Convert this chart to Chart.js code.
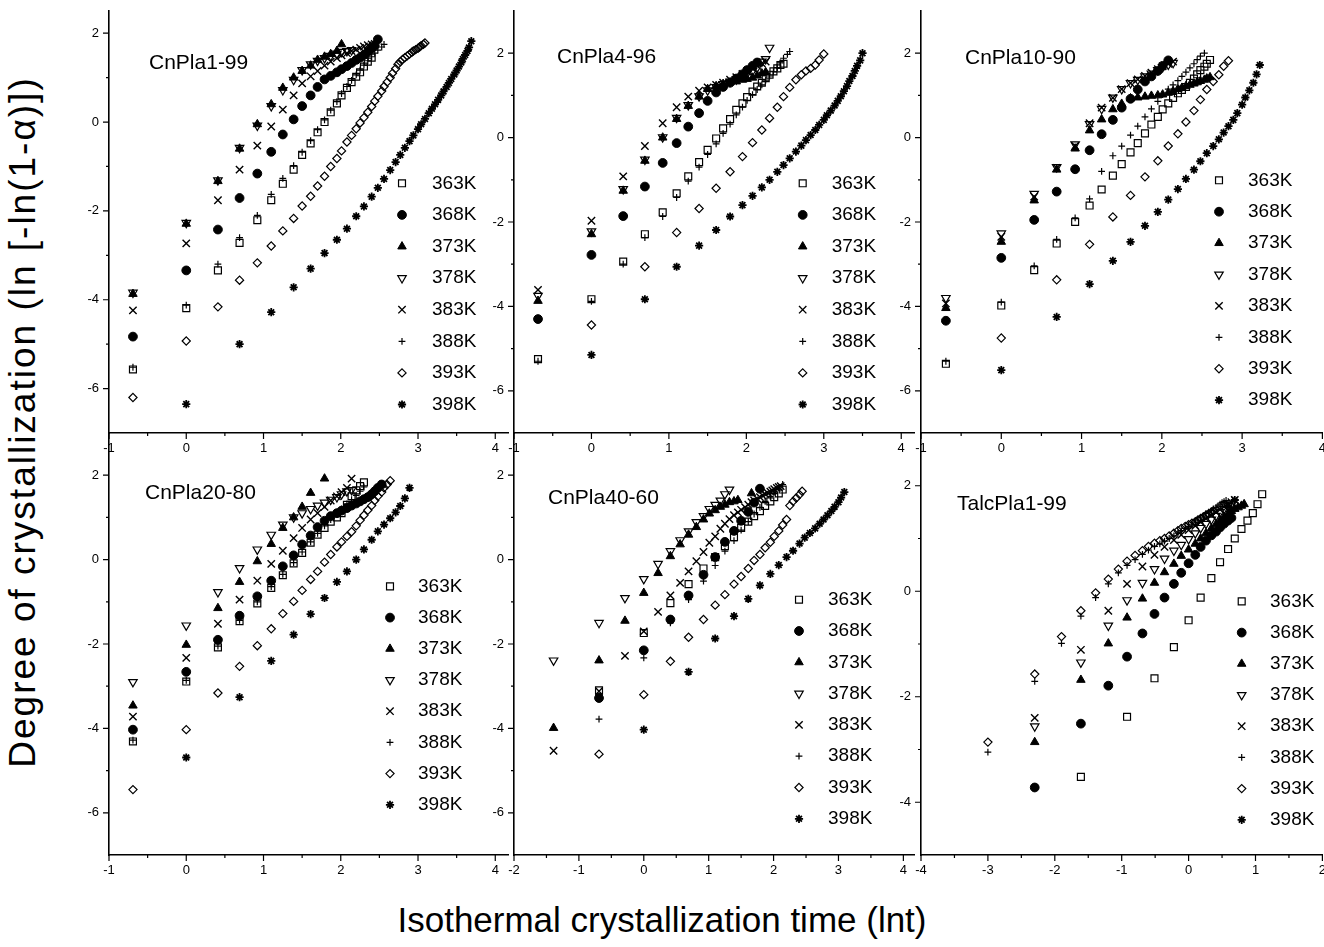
<!DOCTYPE html>
<html lang="en">
<head>
<meta charset="UTF-8">
<title>Isothermal crystallization - Avrami plots</title>
<script src="https://cdn.jsdelivr.net/npm/chart.js@4"></script>
<style>
  body { margin: 0; background: #fff; width: 1324px; height: 947px; overflow: hidden; position: relative;
         font-family: 'Liberation Sans', Arial, sans-serif; color: #000; }
  canvas { position: absolute; }
  #ytitle { position: absolute; left: -357px; top: 400px; width: 760px; height: 44px; line-height: 44px;
            text-align: center; font-size: 37px; letter-spacing: 2px; transform: rotate(-90deg); white-space: nowrap; }
  #xtitle { position: absolute; left: 0; top: 900px; width: 1324px; height: 40px; line-height: 40px;
            text-align: center; font-size: 35px; white-space: nowrap; }
</style>
</head>
<body>
<div id="ytitle">Degree of crystallization (ln [-ln(1-α)])</div>
<div id="xtitle">Isothermal crystallization time (lnt)</div>
<script>
// ln t sampling grids
const gHalf = [-0.69, 0, 0.41, 0.69, 0.92, 1.10, 1.25, 1.39, 1.50, 1.61, 1.70, 1.79, 1.87, 1.95, 2.01, 2.08, 2.14, 2.20, 2.25, 2.30, 2.35, 2.40, 2.44, 2.48, 2.53, 2.56, 2.60, 2.64, 2.67, 2.71, 2.74, 2.77, 2.80, 2.83, 2.86, 2.89, 2.92, 2.94, 2.97, 3.00, 3.02, 3.04, 3.07, 3.09];
const gOne = [0, 0.69, 1.10, 1.39, 1.61, 1.79, 1.95, 2.08, 2.20, 2.30, 2.40, 2.48, 2.56, 2.64, 2.71, 2.77, 2.83, 2.89, 2.94, 3.00, 3.04, 3.09, 3.14, 3.18, 3.22, 3.26, 3.30, 3.33, 3.37, 3.40, 3.43, 3.47, 3.50, 3.53, 3.56, 3.58, 3.61, 3.64, 3.66, 3.69];
const gQuarter = [-1.39, -0.69, -0.29, 0, 0.22, 0.41, 0.56, 0.69, 0.81, 0.92, 1.01, 1.10, 1.18, 1.25, 1.32, 1.39, 1.45, 1.50, 1.56, 1.61, 1.66, 1.70, 1.75, 1.79, 1.83, 1.87, 1.91, 1.95, 1.98, 2.01, 2.05, 2.08, 2.11, 2.14];
const gTenth = [-2.30, -1.61, -1.20, -0.92, -0.69, -0.51, -0.36, -0.22, -0.11, 0, 0.10, 0.18, 0.26, 0.34, 0.41, 0.47, 0.53, 0.59, 0.64, 0.69, 0.74, 0.79, 0.83];
const gTwentieth = [-3.00, -2.30, -1.90, -1.61, -1.39, -1.20, -1.05, -0.92, -0.80, -0.69, -0.60, -0.51, -0.43, -0.36, -0.29, -0.22, -0.16, -0.11, -0.05, 0, 0.05, 0.10, 0.14, 0.18, 0.22, 0.26, 0.30, 0.34, 0.37, 0.41, 0.44, 0.47, 0.50, 0.53, 0.56, 0.59];
const gFifth = [-1.61, -0.92, -0.51, -0.22, 0, 0.18, 0.34, 0.47, 0.59, 0.69, 0.79, 0.88, 0.96, 1.03, 1.10];

const temps = ['363K', '368K', '373K', '378K', '383K', '388K', '393K', '398K'];

// tick labels
const xTicksA = [-1, 0, 1, 2, 3, 4];
const xTicksB = [-2, -1, 0, 1, 2, 3, 4];
const xTicksC = [-4, -3, -2, -1, 0, 1, 2];
const yTicksA = [-6, -4, -2, 0, 2];
const yTicksB = [-4, -2, 0, 2];

// CnPla1-99
const p1_363 = [-5.57, -4.19, -3.34, -2.72, -2.21, -1.76, -1.39, -1.07, -0.74, -0.48, -0.23, 0.0, 0.22, 0.42, 0.6, 0.77, 0.9, 1.02, 1.12, 1.25, 1.36, 1.45];
const p1_368 = [-4.83, -3.34, -2.42, -1.71, -1.16, -0.67, -0.28, 0.06, 0.36, 0.6, 0.79, 0.96, 1.04, 1.12, 1.19, 1.26, 1.33, 1.4, 1.45, 1.51, 1.58, 1.66, 1.72, 1.86];
const p1_373 = [-3.87, -2.29, -1.33, -0.6, -0.05, 0.4, 0.77, 1.0, 1.15, 1.27, 1.4, 1.47, 1.53, 1.6, 1.75];
const p1_378 = [-3.84, -2.27, -1.31, -0.58, -0.08, 0.36, 0.72, 0.95, 1.17, 1.3, 1.38, 1.44, 1.49, 1.54, 1.58, 1.6, 1.62];
const p1_383 = [-4.24, -2.73, -1.76, -1.07, -0.53, -0.1, 0.28, 0.6, 0.87, 1.03, 1.15, 1.27, 1.36, 1.44, 1.5, 1.55, 1.6, 1.63, 1.67, 1.7, 1.73, 1.75, 1.76];
const p1_388 = [-5.52, -4.12, -3.2, -2.6, -2.1, -1.63, -1.27, -0.98, -0.68, -0.42, -0.17, 0.05, 0.27, 0.46, 0.64, 0.8, 0.94, 1.06, 1.17, 1.28, 1.38, 1.47, 1.55, 1.62, 1.69, 1.75];
const p1_393 = [-6.2, -4.93, -4.16, -3.56, -3.17, -2.79, -2.45, -2.17, -1.89, -1.67, -1.44, -1.22, -1.0, -0.82, -0.65, -0.45, -0.3, -0.15, -0.02, 0.1, 0.22, 0.35, 0.47, 0.58, 0.7, 0.8, 0.9, 1.0, 1.1, 1.2, 1.3, 1.36, 1.41, 1.45, 1.49, 1.53, 1.57, 1.6, 1.63, 1.66, 1.69, 1.72, 1.75, 1.78];
const p1_398 = [-6.35, -5.0, -4.28, -3.72, -3.3, -2.95, -2.65, -2.4, -2.12, -1.9, -1.68, -1.48, -1.28, -1.08, -0.9, -0.74, -0.58, -0.43, -0.3, -0.16, -0.05, 0.07, 0.2, 0.3, 0.4, 0.5, 0.6, 0.69, 0.79, 0.88, 0.97, 1.07, 1.16, 1.25, 1.34, 1.42, 1.51, 1.6, 1.68, 1.82];

// CnPla4-96
const p2_363 = [-5.25, -3.83, -2.94, -2.29, -1.77, -1.32, -0.92, -0.58, -0.29, -0.02, 0.22, 0.44, 0.66, 0.81, 0.96, 1.09, 1.21, 1.30, 1.41, 1.49, 1.57, 1.64, 1.72, 1.75];
const p2_368 = [-4.3, -2.78, -1.86, -1.16, -0.6, -0.13, 0.26, 0.58, 0.87, 1.07, 1.2, 1.3, 1.4, 1.5, 1.6, 1.7, 1.78];
const p2_373 = [-3.87, -2.29, -1.26, -0.55, 0.0, 0.44, 0.75, 0.97, 1.15, 1.22, 1.27, 1.31, 1.33, 1.37, 1.39, 1.42, 1.47, 1.52, 1.55];
const p2_378 = [-3.75, -2.22, -1.22, -0.52, 0.01, 0.47, 0.77, 0.98, 1.12, 1.2, 1.27, 1.33, 1.38, 1.45, 1.52, 1.58, 1.66, 1.8, 1.86, 2.13];
const p2_383 = [-3.61, -1.97, -0.92, -0.2, 0.34, 0.72, 0.97, 1.11, 1.19, 1.25, 1.3, 1.37, 1.43, 1.51, 1.57, 1.64, 1.7, 1.76, 1.8];
const p2_388 = [-5.3, -3.88, -3.0, -2.37, -1.87, -1.42, -1.03, -0.7, -0.4, -0.15, 0.1, 0.32, 0.54, 0.72, 0.88, 1.02, 1.14, 1.25, 1.36, 1.46, 1.56, 1.66, 1.77, 1.88, 1.97, 2.04];
const p2_393 = [-4.44, -3.06, -2.25, -1.68, -1.2, -0.81, -0.45, -0.12, 0.18, 0.46, 0.72, 0.97, 1.19, 1.37, 1.49, 1.58, 1.64, 1.72, 1.84, 1.98];
const p2_398 = [-5.15, -3.83, -3.06, -2.56, -2.19, -1.87, -1.6, -1.38, -1.18, -1.0, -0.81, -0.65, -0.49, -0.33, -0.19, -0.06, 0.06, 0.18, 0.3, 0.42, 0.53, 0.64, 0.76, 0.87, 0.98, 1.1, 1.22, 1.34, 1.46, 1.58, 1.7, 1.83, 2.0];

// CnPla10-90
const p3_363 = [-5.36, -3.98, -3.14, -2.51, -2.0, -1.61, -1.23, -0.9, -0.63, -0.35, -0.13, 0.1, 0.31, 0.49, 0.67, 0.81, 0.94, 1.05, 1.13, 1.2, 1.3, 1.4, 1.5, 1.6, 1.68, 1.75, 1.84];
const p3_368 = [-4.34, -2.85, -1.95, -1.28, -0.75, -0.3, 0.08, 0.42, 0.71, 0.92, 1.14, 1.33, 1.45, 1.58, 1.7, 1.83];
const p3_373 = [-4.04, -2.47, -1.49, -0.76, -0.26, 0.17, 0.43, 0.67, 0.8, 0.93, 0.95, 0.97, 0.99, 1.0, 1.02, 1.06, 1.1, 1.15, 1.18, 1.22, 1.25, 1.28, 1.31, 1.34, 1.37, 1.4, 1.43];
const p3_378 = [-3.8, -2.27, -1.33, -0.7, -0.16, 0.32, 0.68, 0.95, 1.15, 1.29, 1.37, 1.45, 1.52, 1.6, 1.67, 1.73, 1.77];
const p3_383 = [-3.93, -2.35, -1.4, -0.72, -0.2, 0.34, 0.71, 0.94, 1.15, 1.29, 1.38, 1.46, 1.54, 1.62, 1.69, 1.75, 1.8];
const p3_388 = [-5.3, -3.9, -3.04, -2.41, -1.9, -1.45, -0.8, -0.43, -0.2, 0.06, 0.27, 0.49, 0.68, 0.86, 1.02, 1.15, 1.25, 1.35, 1.45, 1.55, 1.65, 1.75, 1.85, 1.93, 2.0];
const p3_393 = [-4.75, -3.37, -2.53, -1.88, -1.37, -0.93, -0.55, -0.2, 0.09, 0.37, 0.64, 0.9, 1.14, 1.33, 1.49, 1.69, 1.82];
const p3_398 = [-5.51, -4.25, -3.47, -2.92, -2.47, -2.09, -1.76, -1.47, -1.22, -0.98, -0.76, -0.56, -0.37, -0.2, -0.04, 0.12, 0.27, 0.42, 0.58, 0.78, 0.95, 1.12, 1.3, 1.5, 1.72];

// CnPla20-80
const p4_363 = [-4.31, -2.89, -2.08, -1.46, -1.04, -0.67, -0.37, -0.09, 0.16, 0.4, 0.59, 0.75, 0.9, 1.0, 1.1, 1.3, 1.5, 1.64, 1.74, 1.83];
const p4_368 = [-4.03, -2.66, -1.9, -1.33, -0.87, -0.5, -0.16, 0.1, 0.36, 0.57, 0.77, 0.92, 1.03, 1.1, 1.16, 1.22, 1.28, 1.33, 1.38, 1.43, 1.48, 1.55, 1.62, 1.7, 1.78];
const p4_373 = [-3.46, -2.02, -1.15, -0.53, -0.04, 0.37, 0.75, 1.0, 1.25, 1.58, null, 1.92];
const p4_378 = [-2.9, -1.56, -0.77, -0.2, 0.24, 0.59, 0.83, 1.0, 1.1, 1.2, 1.28, 1.35, 1.42, 1.48, 1.55, 1.62, 1.65];
const p4_383 = [-3.72, -2.33, -1.52, -0.95, -0.5, -0.1, 0.21, 0.51, 0.75, 0.95, 1.1, 1.25, 1.4, 1.5, 1.6, 1.7, 1.92];
const p4_388 = [-4.28, -2.86, -2.05, -1.44, -1.0, -0.64, -0.35, -0.07, 0.18, 0.42, 0.62, 0.8, 0.95, 1.08, 1.2, 1.32, 1.42, 1.52, 1.62, 1.72];
const p4_393 = [-5.45, -4.03, -3.16, -2.53, -2.04, -1.64, -1.28, -0.99, -0.73, -0.47, -0.28, -0.06, 0.12, 0.3, 0.42, 0.55, 0.66, 0.8, 0.93, 1.05, 1.17, 1.28, 1.4, 1.5, 1.6, 1.7, 1.78, 1.87];
const p4_398 = [-4.69, -3.26, -2.4, -1.78, -1.29, -0.91, -0.53, -0.28, 0.0, 0.24, 0.47, 0.67, 0.83, 0.98, 1.12, 1.27, 1.45, 1.7];

// CnPla40-60
const p5_363 = [-3.1, -1.74, -1.03, -0.58, -0.21, 0.06, 0.32, 0.53, 0.75, 0.9, 1.03, 1.15, 1.27, 1.38, 1.48, 1.57, 1.66];
const p5_368 = [-3.28, -2.15, -1.42, -0.85, -0.36, 0.06, 0.42, 0.68, 0.92, 1.13, 1.35, 1.68];
const p5_373 = [-3.99, -2.39, -1.45, -0.79, -0.32, 0.08, 0.36, 0.59, 0.77, 0.95, 1.09, 1.17, 1.25, 1.3, 1.36, 1.38, 1.41, null, null, null, 1.57];
const p5_378 = [-2.39, -1.5, -0.91, -0.46, -0.1, 0.2, 0.46, 0.67, 0.89, 1.03, 1.2, 1.3, 1.4, 1.55, 1.66];
const p5_383 = [-4.53, -3.12, -2.28, -1.7, -1.24, -0.85, -0.55, -0.28, -0.04, 0.18, 0.4, 0.55, 0.73, 0.85, 0.96, 1.05, 1.12, 1.18, 1.24, 1.3, 1.36, 1.4, 1.44, 1.48, 1.52, 1.55, 1.58, 1.61, 1.64, 1.67, 1.7, 1.72, 1.74];
const p5_388 = [-3.78, -2.33, -1.5, -0.95, -0.51, -0.14, 0.2, 0.45, 0.7, 0.9, 1.08, 1.24, 1.38, 1.5, 1.6, 1.7, 1.78];
const p5_393 = [-4.61, -3.2, -2.41, -1.84, -1.42, -1.08, -0.83, -0.58, -0.4, -0.21, -0.02, 0.12, 0.28, 0.41, 0.55, 0.68, 0.82, 0.95, 1.28, 1.38, 1.46, 1.54, 1.62];
const p5_398 = [-4.03, -2.66, -1.87, -1.34, -0.93, -0.61, -0.34, -0.13, 0.06, 0.21, 0.38, 0.52, 0.63, 0.74, 0.85, 0.95, 1.05, 1.15, 1.25, 1.36, 1.47, 1.6];

// TalcPla1-99
const p6_363 = [-3.52, -2.38, -1.65, -1.06, -0.55, -0.12, 0.25, 0.55, 0.8, 1.0, 1.18, 1.34, 1.48, 1.65, 1.84];
const p6_368 = [-3.72, -2.51, -1.79, -1.24, -0.8, -0.43, -0.12, 0.14, 0.35, 0.53, 0.69, 0.84, 0.96, 1.06, 1.13, 1.21, 1.28, 1.34, 1.39];
const p6_373 = [-2.86, -1.68, -0.99, -0.5, -0.14, 0.16, 0.36, 0.52, 0.67, 0.79, 0.9, 1.0, 1.1, 1.19, 1.27, 1.34, 1.41, 1.47, 1.52, 1.56, 1.59, 1.62, 1.65];
const p6_378 = [-2.56, -1.35, -0.65, -0.17, 0.16, 0.42, 0.62, 0.77, 0.88, 0.99, 1.1, 1.2, 1.28, 1.36, 1.43, 1.5, 1.56, 1.61, 1.65];
const p6_383 = [-2.4, -1.11, -0.37, 0.14, 0.47, 0.69, 0.84, 0.97, 1.07, 1.16, 1.24, 1.31, 1.38, 1.44, 1.5, 1.55, 1.6, 1.65, 1.69, 1.73];
const p6_388 = [-3.05, -1.71, -0.99, -0.47, -0.12, 0.14, 0.35, 0.49, 0.6, 0.7, 0.78, 0.85, 0.9, 0.95, 1.0, 1.05, 1.1, 1.15, 1.19, 1.23, 1.27, 1.31, 1.35, 1.39, 1.43, 1.47, 1.5, 1.53, 1.56, 1.59, 1.62, 1.65, 1.68, 1.7, 1.72];
const p6_393 = [-2.86, -1.57, -0.86, -0.37, -0.03, 0.23, 0.42, 0.57, 0.68, 0.77, 0.85, 0.91, 0.96, 1.0, 1.05, 1.1, 1.15, 1.19, 1.23, 1.26, 1.29, 1.32, 1.35, 1.38, 1.41, 1.44, 1.47, 1.5, 1.52];
const p6_398x = [0.59, 0.69];
const p6_398 = [1.62, 1.73];

// marker look per temperature (same order as temps)
const markers = [
  { pointStyle: 'rect', pointRadius: 4.9, pointBackgroundColor: 'rgba(0,0,0,0)', pointBorderWidth: 1.2 },
  { pointStyle: 'circle', pointRadius: 4.4, pointBackgroundColor: '#000', pointBorderWidth: 1 },
  { pointStyle: 'triangle', pointRadius: 4.9, pointBackgroundColor: '#000', pointBorderWidth: 1 },
  { pointStyle: 'triangle', pointRotation: 180, pointRadius: 4.9, pointBackgroundColor: 'rgba(0,0,0,0)', pointBorderWidth: 1.2 },
  { pointStyle: 'crossRot', pointRadius: 5.2, pointBorderWidth: 1.4 },
  { pointStyle: 'cross', pointRadius: 3.4, pointBorderWidth: 1.2 },
  { pointStyle: 'rectRot', pointRadius: 4.1, pointBackgroundColor: 'rgba(0,0,0,0)', pointBorderWidth: 1.2 },
  { pointStyle: 'star', pointRadius: 4.1, pointBorderWidth: 1.8 }
];

const panels = [
  { left: 109, top: 10.7, w: 403, h: 422.3, xr: [-1, 4.17], yr: [-7, 2.5], xt: xTicksA, yt: yTicksA,
    name: 'CnPla1-99', ti: [40, 52.3], lg: [293, 172.3, 31.6, 30],
    data: [[gHalf, p1_363], [gHalf, p1_368], [gHalf, p1_373], [gHalf, p1_378], [gHalf, p1_383], [gHalf, p1_388], [gHalf, p1_393], [gOne, p1_398]] },
  { left: 514, top: 10.7, w: 404, h: 422.3, xr: [-1, 4.17], yr: [-7, 3], xt: xTicksA, yt: yTicksA,
    name: 'CnPla4-96', ti: [43, 46.3], lg: [288.7, 172.3, 31.6, 29],
    data: [[gHalf, p2_363], [gHalf, p2_368], [gHalf, p2_373], [gHalf, p2_378], [gHalf, p2_383], [gHalf, p2_388], [gOne, p2_393], [gOne, p2_398]] },
  { left: 921, top: 10.7, w: 405, h: 422.3, xr: [-1, 4], yr: [-7, 3], xt: xTicksA, yt: yTicksA,
    name: 'CnPla10-90', ti: [44, 47.3], lg: [298, 169.3, 31.4, 29],
    data: [[gHalf, p3_363], [gHalf, p3_368], [gHalf, p3_373], [gHalf, p3_378], [gHalf, p3_383], [gHalf, p3_388], [gOne, p3_393], [gOne, p3_398]] },
  { left: 109, top: 433.3, w: 403, h: 421.7, xr: [-1, 4.17], yr: [-7, 3], xt: xTicksA, yt: yTicksA,
    name: 'CnPla20-80', ti: [36, 60.7], lg: [281, 153.4, 31.2, 28],
    data: [[gHalf, p4_363], [gHalf, p4_368], [gHalf, p4_373], [gHalf, p4_378], [gHalf, p4_383], [gHalf, p4_388], [gHalf, p4_393], [gOne, p4_398]] },
  { left: 514, top: 433.3, w: 404, h: 421.7, xr: [-2, 4.17], yr: [-7, 3], xt: xTicksB, yt: yTicksA,
    name: 'CnPla40-60', ti: [34, 65.7], lg: [285, 166.7, 31.3, 29],
    data: [[gHalf, p5_363], [gHalf, p5_368], [gQuarter, p5_373], [gQuarter, p5_378], [gQuarter, p5_383], [gHalf, p5_388], [gHalf, p5_393], [gOne, p5_398]] },
  { left: 921, top: 433.3, w: 405, h: 421.7, xr: [-4, 2], yr: [-5, 3], xt: xTicksC, yt: yTicksB,
    name: 'TalcPla1-99', ti: [36, 71.7], lg: [320.7, 168.4, 31.2, 28.3],
    data: [[gFifth, p6_363], [gTenth, p6_368], [gTenth, p6_373], [gTenth, p6_378], [gTenth, p6_383], [gTwentieth, p6_388], [gTwentieth, p6_393], [p6_398x, p6_398]] }
];

const FONT = "'Liberation Sans', Arial, sans-serif";
Chart.defaults.font.family = FONT;
Chart.defaults.color = '#000';

function mids(t) {
  const step = t[1] - t[0];
  const out = [t[0] - step / 2];
  t.forEach(v => out.push(v + step / 2));
  return out;
}

// outward major / minor tick marks
const tickMarks = {
  id: 'tickMarks',
  afterDraw(chart, args, o) {
    const { ctx, chartArea: a, scales: { x, y } } = chart;
    ctx.save();
    ctx.strokeStyle = '#000';
    ctx.lineWidth = 1.2;
    ctx.beginPath();
    const mark = (s, vals, len, horiz, strict) => vals.forEach(v => {
      if (strict ? (v <= s.min || v >= s.max) : (v < s.min || v > s.max)) return;
      const p = s.getPixelForValue(v);
      if (horiz) { ctx.moveTo(p, a.bottom); ctx.lineTo(p, a.bottom + len); }
      else { ctx.moveTo(a.left, p); ctx.lineTo(a.left - len, p); }
    });
    mark(x, o.xt, 6, true, false);
    mark(x, mids(o.xt), 3, true, true);
    mark(y, o.yt, 6, false, false);
    mark(y, mids(o.yt), 3, false, true);
    ctx.stroke();
    ctx.restore();
  }
};

// legend inside the plot, one row per temperature
const insideLegend = {
  id: 'insideLegend',
  afterDatasetsDraw(chart, args, o) {
    const { ctx, chartArea: a } = chart;
    chart.data.datasets.forEach((ds, i) => {
      const x = a.left + o.x, y = a.top + o.y + i * o.dy;
      ctx.save();
      ctx.fillStyle = ds.pointBackgroundColor || 'rgba(0,0,0,0)';
      ctx.strokeStyle = '#000';
      ctx.lineWidth = ds.pointBorderWidth;
      Chart.helpers.drawPoint(ctx, {
        pointStyle: ds.pointStyle, rotation: ds.pointRotation || 0,
        radius: ds.pointRadius, borderWidth: ds.pointBorderWidth
      }, x, y);
      ctx.fillStyle = '#000';
      ctx.font = '19px ' + FONT;
      ctx.textAlign = 'left';
      ctx.textBaseline = 'middle';
      ctx.fillText(ds.label, x + o.gap, y);
      ctx.restore();
    });
  }
};

const panelTitle = {
  id: 'panelTitle',
  afterDatasetsDraw(chart, args, o) {
    const { ctx, chartArea: a } = chart;
    ctx.save();
    ctx.fillStyle = '#000';
    ctx.font = '21px ' + FONT;
    ctx.textAlign = 'left';
    ctx.textBaseline = 'middle';
    ctx.fillText(o.text, a.left + o.x, a.top + o.y);
    ctx.restore();
  }
};

const YW = 60, XH = 40, PT = 8, PR = 3;

panels.forEach(p => {
  const cv = document.createElement('canvas');
  cv.width = Math.round(p.w + YW + PR);
  cv.height = Math.round(p.h + XH + PT);
  cv.style.left = (p.left - YW) + 'px';
  cv.style.top = (p.top - PT) + 'px';
  document.body.appendChild(cv);

  const datasets = p.data.map(([xs, ys], i) => Object.assign({
    label: temps[i],
    data: ys.map((v, j) => ({ x: xs[j], y: v })).filter(d => d.y !== null),
    pointBorderColor: '#000',
    showLine: false
  }, markers[i]));

  new Chart(cv, {
    type: 'scatter',
    data: { datasets },
    options: {
      responsive: false,
      animation: false,
      devicePixelRatio: 1,
      layout: { padding: { top: PT, right: PR, left: 0, bottom: 0 } },
      scales: {
        x: {
          type: 'linear', min: p.xr[0], max: p.xr[1],
          border: { display: true, color: '#000', width: 1.6 },
          grid: { display: false, drawTicks: false },
          ticks: { autoSkip: false, maxRotation: 0, padding: 8, font: { size: 13 }, color: '#000', callback: v => String(v) },
          afterBuildTicks: s => { s.ticks = p.xt.map(v => ({ value: v })); },
          afterFit: s => { s.height = XH; s.paddingLeft = 0; s.paddingRight = 0; }
        },
        y: {
          type: 'linear', min: p.yr[0], max: p.yr[1],
          border: { display: true, color: '#000', width: 1.6 },
          grid: { display: false, drawTicks: false },
          ticks: { autoSkip: false, padding: 10, font: { size: 13 }, color: '#000', callback: v => String(v) },
          afterBuildTicks: s => { s.ticks = p.yt.map(v => ({ value: v })); },
          afterFit: s => { s.width = YW; s.paddingTop = 0; s.paddingBottom = 0; }
        }
      },
      plugins: {
        legend: { display: false },
        tooltip: { enabled: false },
        tickMarks: { xt: p.xt, yt: p.yt },
        insideLegend: { x: p.lg[0], y: p.lg[1], dy: p.lg[2], gap: p.lg[3] },
        panelTitle: { text: p.name, x: p.ti[0], y: p.ti[1] }
      }
    },
    plugins: [tickMarks, insideLegend, panelTitle]
  });
});
</script>
</body>
</html>
